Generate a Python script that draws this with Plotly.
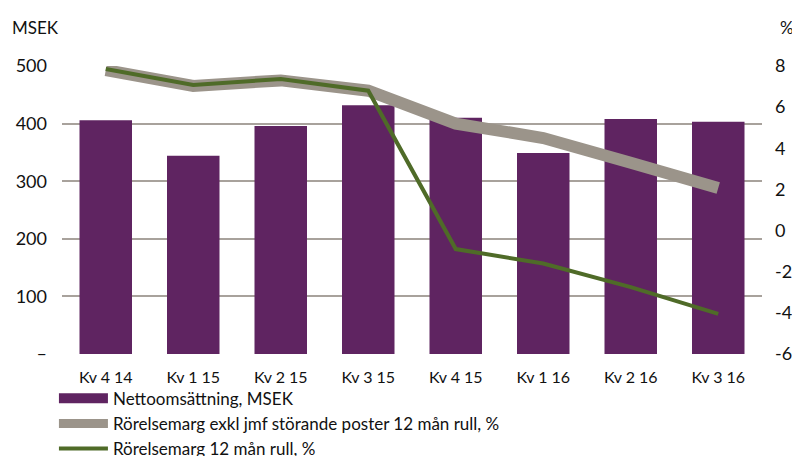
import plotly.graph_objects as go

categories = ["Kv 4 14", "Kv 1 15", "Kv 2 15", "Kv 3 15", "Kv 4 15", "Kv 1 16", "Kv 2 16", "Kv 3 16"]
netto = [406, 344, 396, 432, 410, 349, 408, 403]
marg_exkl = [7.8, 7.03, 7.3, 6.8, 5.2, 4.5, 3.3, 2.07]
marg = [7.85, 7.08, 7.37, 6.8, -0.9, -1.6, -2.75, -4.05]
left_ticks = [0, 100, 200, 300, 400, 500]
left_text = ["–", "100", "200", "300", "400", "500"]
right_ticks = [-6, -4, -2, 0, 2, 4, 6, 8]
right_text = ["-6", "-4", "-2", "0", "2", "4", "6", "8"]

PURPLE = "#5f2461"
GRAY = "#9b948a"
GREEN = "#4f6b28"
FONT = "Lato"

fig = go.Figure()
fig.add_trace(go.Bar(x=categories, y=netto, marker=dict(color=PURPLE, line=dict(width=0)),
                     width=0.6, showlegend=False, name="Nettoomsättning, MSEK"))
fig.add_trace(go.Scatter(x=categories, y=marg_exkl, yaxis="y2", mode="lines",
                         line=dict(color=GRAY, width=12), showlegend=False))
fig.add_trace(go.Scatter(x=categories, y=marg, yaxis="y2", mode="lines",
                         line=dict(color=GREEN, width=4), showlegend=False))
# legend entries
fig.add_trace(go.Scatter(x=[None], y=[None], mode="lines", line=dict(color=PURPLE, width=12),
                         name="Nettoomsättning, MSEK"))
fig.add_trace(go.Scatter(x=[None], y=[None], mode="lines", line=dict(color=GRAY, width=9),
                         name="Rörelsemarg exkl jmf störande poster 12 mån rull, %"))
fig.add_trace(go.Scatter(x=[None], y=[None], mode="lines", line=dict(color=GREEN, width=4),
                         name="Rörelsemarg 12 mån rull, %"))

fig.update_layout(
    width=792, height=448,
    margin=dict(l=54, r=38, t=58, b=102, autoexpand=False),
    paper_bgcolor="white", plot_bgcolor="white",
    font=dict(family=FONT, size=16, color="#111111"),
    xaxis=dict(type="category", showgrid=False, showline=False, ticks="",
               tickfont=dict(size=16), range=[-0.5, 7.5], automargin=False,
               ticklabelstandoff=12),
    yaxis=dict(range=[0, 500], tickvals=left_ticks, ticktext=left_text,
               showgrid=True, gridcolor="#a8a29c", gridwidth=1.5, zeroline=False,
               showline=False, ticks="", tickfont=dict(size=18), ticklabelstandoff=14,
               automargin=False),
    yaxis2=dict(range=[-6, 8], tickvals=right_ticks, ticktext=right_text,
                overlaying="y", side="right",
                showgrid=False, zeroline=False, showline=False, ticks="",
                tickfont=dict(size=18), ticklabelstandoff=12, automargin=False),
    legend=dict(xref="container", yref="container", x=0.058, y=0.168,
                xanchor="left", yanchor="top", orientation="v",
                font=dict(size=17), tracegroupgap=0, itemwidth=49,
                bgcolor="rgba(0,0,0,0)"),
    annotations=[
        dict(text="MSEK", xref="paper", yref="paper", x=-0.074, y=1.135, xanchor="left",
             yanchor="middle", showarrow=False, font=dict(size=17)),
        dict(text="%", xref="paper", yref="paper", x=1.036, y=1.135, xanchor="center",
             yanchor="middle", showarrow=False, font=dict(size=17)),
    ],
)

fig.write_html("out.html")
